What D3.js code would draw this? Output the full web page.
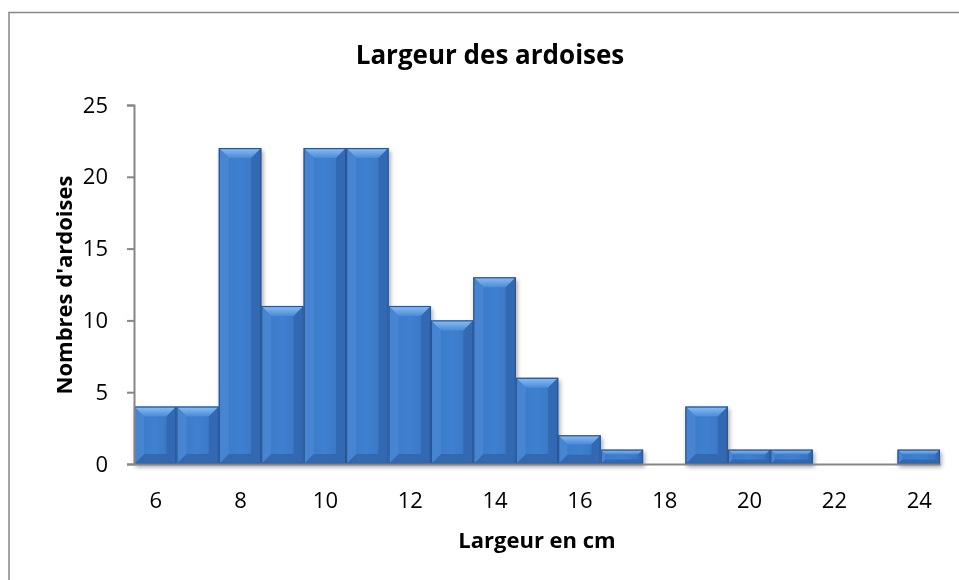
<!DOCTYPE html>
<html lang="fr">
<head>
<meta charset="UTF-8">
<title>Largeur des ardoises</title>
<script src="https://d3js.org/d3.v7.min.js"></script>
<style>
  body { margin: 0; background: #fff; }
  text { font-family: "Open Sans", sans-serif; fill: #000; }
</style>
</head>
<body>
<script>
    const width = 959
    const height = 580

    // largeur en cm et nombre d'ardoises
    const largeurs = [6, 7, 8, 9, 10, 11, 12, 13, 14, 15, 16, 17, 18, 19, 20, 21, 22, 23, 24]
    const nombres  = [4, 4, 22, 11, 22, 22, 11, 10, 13, 6, 2, 1, 0, 4, 1, 1, 0, 0, 1]
    const xTicks = [6, 8, 10, 12, 14, 16, 18, 20, 22, 24]
    const yTicks = [0, 5, 10, 15, 20, 25]

    const margin = {left: 134, right: 19, top: 105, bottom: 116}

    let svg = d3.select("body").append("svg")
        .attr("width", width)
        .attr("height", height)

    const defs = svg.append("defs")
    const shadow = defs.append("filter").attr("id", "shadow")
        .attr("x", "-20%").attr("y", "-20%").attr("width", "140%").attr("height", "140%")
    shadow.append("feDropShadow")
        .attr("dx", 1.5).attr("dy", 3).attr("stdDeviation", 2)
        .attr("flood-color", "#000").attr("flood-opacity", 0.35)

    const gTop = defs.append("linearGradient").attr("id", "gTop")
        .attr("x1", 0).attr("y1", 0).attr("x2", 0).attr("y2", 1)
    gTop.append("stop").attr("offset", 0).attr("stop-color", "#8cc0f4")
    gTop.append("stop").attr("offset", 1).attr("stop-color", "#4a8ad8")

    const gBody = defs.append("linearGradient").attr("id", "gBody")
        .attr("x1", 0).attr("y1", 0).attr("x2", 1).attr("y2", 0)
    gBody.append("stop").attr("offset", 0).attr("stop-color", "#3a78c6")
    gBody.append("stop").attr("offset", 0.5).attr("stop-color", "#3f80d0")
    gBody.append("stop").attr("offset", 1).attr("stop-color", "#3772bd")

    // cadre
    svg.append("rect")
        .attr("x", 9).attr("y", 12.5)
        .attr("width", 980).attr("height", 600)
        .attr("fill", "none").attr("stroke", "#878787").attr("stroke-width", 1.5)

    const x = d3.scaleLinear()
        .domain([5.5, 24.5])
        .range([margin.left, width - margin.right])

    const y = d3.scaleLinear()
        .domain([0, 25])
        .range([height - margin.bottom, margin.top])

    let gBars = svg.append("g").attr("filter", "url(#shadow)")
        .selectAll("g")
        .data(largeurs.map((l, i) => ({l: l, n: nombres[i]})).filter(d => d.n > 0))
        .enter()
        .append("g")

    gBars.each(function (d) {
        const g = d3.select(this)
        const x0 = x(d.l - 0.5), x1 = x(d.l + 0.5)
        const y0 = y(d.n), y1 = y(0)
        const b = Math.min(10, (y1 - y0) * 0.32)
        g.append("rect")
            .attr("x", x0).attr("y", y0)
            .attr("width", x1 - x0).attr("height", y1 - y0)
            .attr("fill", "url(#gBody)")
        // biseau haut
        g.append("polygon")
            .attr("points", [[x0, y0], [x1, y0], [x1 - b, y0 + b], [x0 + b, y0 + b]].join(" "))
            .attr("fill", "url(#gTop)")
        // biseau bas
        g.append("polygon")
            .attr("points", [[x0, y1], [x1, y1], [x1 - b, y1 - b], [x0 + b, y1 - b]].join(" "))
            .attr("fill", "#2f64a9").attr("opacity", 0.8)
        // côtés
        g.append("polygon")
            .attr("points", [[x0, y0], [x0 + b, y0 + b], [x0 + b, y1 - b], [x0, y1]].join(" "))
            .attr("fill", "#4685d2")
        g.append("polygon")
            .attr("points", [[x1, y0], [x1 - b, y0 + b], [x1 - b, y1 - b], [x1, y1]].join(" "))
            .attr("fill", "#3169b2")
        g.append("rect")
            .attr("x", x0 + 0.5).attr("y", y0 + 0.5)
            .attr("width", x1 - x0 - 1).attr("height", y1 - y0 - 1)
            .attr("fill", "none").attr("stroke", "#2a5692").attr("stroke-width", 1.2)
    })

    // axe Y
    const yAxis = svg.append("g")
        .attr("transform", `translate(${margin.left},0)`)
        .call(d3.axisLeft(y).tickValues(yTicks).tickSize(7).tickPadding(19))
    yAxis.selectAll("text").style("font-size", "22px").style("font-family", "'Open Sans', sans-serif")

    // axe X
    const xAxis = svg.append("g")
        .attr("transform", `translate(0,${height - margin.bottom})`)
        .call(d3.axisBottom(x).tickValues(xTicks).tickSize(0).tickPadding(28).tickSizeOuter(0))
    xAxis.selectAll("text").style("font-size", "22px").style("font-family", "'Open Sans', sans-serif")

    svg.selectAll(".domain, .tick line").attr("stroke", "#868686").attr("stroke-width", 2)
    svg.selectAll(".tick text").attr("fill", "#000")

    svg.append("text")
        .attr("x", 490).attr("y", 64)
        .attr("text-anchor", "middle")
        .style("font-size", "26px").style("font-weight", "bold")
        .text("Largeur des ardoises")

    svg.append("text")
        .attr("x", 537).attr("y", 548)
        .attr("text-anchor", "middle")
        .style("font-size", "22px").style("font-weight", "bold")
        .text("Largeur en cm")

    svg.append("text")
        .attr("transform", "translate(72,285) rotate(-90)")
        .attr("text-anchor", "middle")
        .style("font-size", "22px").style("font-weight", "bold")
        .text("Nombres d'ardoises")
</script>
</body>
</html>
